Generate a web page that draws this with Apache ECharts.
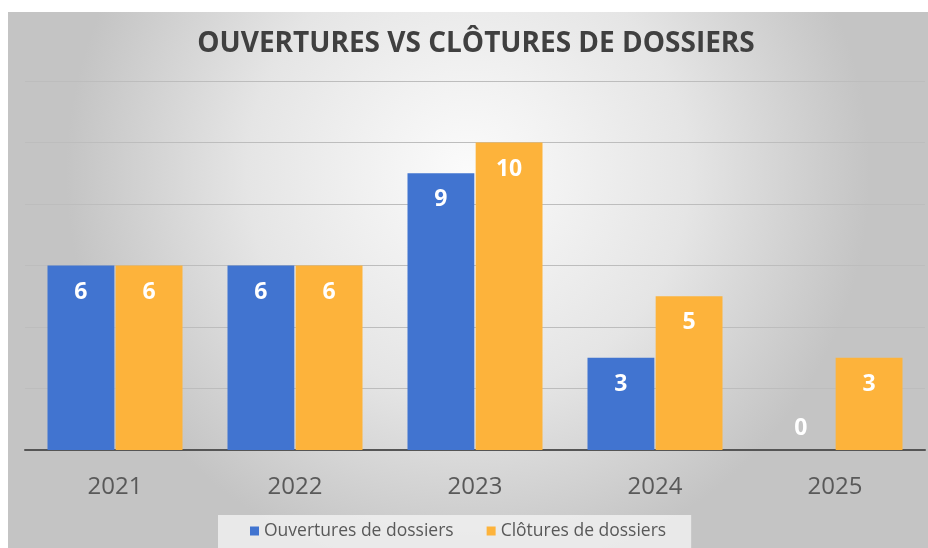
<!DOCTYPE html>
<html lang="fr">
<head>
    <meta charset="UTF-8">
    <title>Ouvertures vs clôtures de dossiers</title>
    <script src="https://cdn.jsdelivr.net/npm/echarts@6/dist/echarts.min.js"></script>
    <style>
        html, body { margin: 0; padding: 0; background: #fff; }
        #main { width: 928px; height: 548px; }
    </style>
</head>
<body>
<div id="main"></div>
<script>
    // données
    var annees = ['2021', '2022', '2023', '2024', '2025'];
    var ouvertures = [6, 6, 9, 3, 0];
    var clotures = [6, 6, 10, 5, 3];
    var nomsSeries = ['Ouvertures de dossiers', 'Clôtures de dossiers'];

    var myChart = echarts.init(document.getElementById('main'));

    var labelBase = {
        show: true,
        position: 'insideTop',
        distance: 15,
        color: '#fff',
        fontFamily: 'Open Sans',
        fontWeight: 'bold',
        fontSize: 23
    };

    // une barre à zéro : étiquette posée au-dessus de l'axe
    function versDonnees(vals) {
        return vals.map(function (v) {
            if (v === 0) {
                return { value: v, label: { position: 'top', distance: 10 } };
            }
            return v;
        });
    }

    var option = {
        backgroundColor: '#fff',
        animation: false,
        graphic: [{
            type: 'rect',
            z: -10,
            silent: true,
            shape: { x: 8, y: 12, width: 920, height: 536 },
            style: {
                fill: new echarts.graphic.RadialGradient(0.5, 0.3, 0.75, [
                    { offset: 0, color: '#fbfbfb' },
                    { offset: 0.55, color: '#e5e5e5' },
                    { offset: 1, color: '#c4c4c4' }
                ])
            }
        }],
        title: {
            text: 'OUVERTURES VS CLÔTURES DE DOSSIERS',
            left: 471,
            textAlign: 'center',
            top: 25,
            textStyle: {
                fontFamily: 'Open Sans',
                fontWeight: 'bold',
                fontSize: 28,
                color: '#404040'
            }
        },
        legend: {
            data: nomsSeries,
            bottom: 0,
            left: 218,
            itemWidth: 9,
            itemHeight: 9,
            itemGap: 33,
            icon: 'rect',
            padding: [7, 25, 8, 32],
            backgroundColor: 'rgba(240,240,240,0.85)',
            textStyle: {
                fontFamily: 'Open Sans',
                fontSize: 17.5,
                color: '#595959'
            }
        },
        grid: { left: 25, right: 3, top: 81, bottom: 98 },
        xAxis: {
            type: 'category',
            data: annees,
            axisTick: { show: false },
            axisLine: { lineStyle: { color: '#555', width: 2 } },
            axisLabel: {
                margin: 25,
                fontFamily: 'Open Sans',
                fontSize: 24,
                color: '#595959'
            }
        },
        yAxis: {
            type: 'value',
            min: 0,
            max: 12,
            interval: 2,
            axisLabel: { show: false },
            axisLine: { show: false },
            axisTick: { show: false },
            splitLine: { lineStyle: { color: '#bdbdbd', width: 1 } }
        },
        series: [{
            name: nomsSeries[0],
            type: 'bar',
            data: versDonnees(ouvertures),
            barGap: '2%',
            barCategoryGap: '25%',
            itemStyle: { color: '#4174D0' },
            label: labelBase
        }, {
            name: nomsSeries[1],
            type: 'bar',
            data: versDonnees(clotures),
            itemStyle: { color: '#FDB33B' },
            label: labelBase
        }]
    };

    myChart.setOption(option);
</script>
</body>
</html>
